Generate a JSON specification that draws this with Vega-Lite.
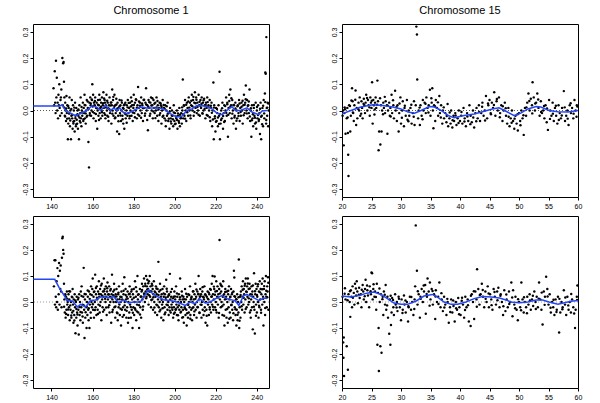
{
"$schema": "https://vega.github.io/schema/vega-lite/v6.json",
"padding": {"left": 20, "top": 4, "right": 5, "bottom": 5},
"background": "white",
"config": {
  "view": {"stroke": "#000", "strokeWidth": 1},
  "axis": {"domain": false, "grid": false, "ticks": true, "tickColor": "#000", "tickSize": 3, "labelFont": "Liberation Sans", "labelFontSize": 7, "labelColor": "#000", "labelPadding": 2, "labelOverlap": false, "labelFlush": false, "labelBound": false, "title": null},
  "title": {"font": "Liberation Sans", "fontSize": 11, "fontWeight": "normal", "color": "#000", "offset": 8}
},
"columns": 2,
"spacing": {"row": 19, "column": 73},
"bounds": "flush",
"datasets": {
"tl": [
{"x":141.0,"y":0.085},{"x":141.3,"y":0.02},{"x":141.6,"y":0.15},{"x":141.8,"y":0.03},{"x":142.0,"y":-0.01},{"x":142.2,"y":0.19},{"x":142.4,"y":0.05},{"x":142.6,"y":0.125},{"x":142.8,"y":0.0},{"x":143.0,"y":0.03},{"x":143.2,"y":-0.03},{"x":143.4,"y":0.06},{"x":143.6,"y":0.02},{"x":143.8,"y":0.1},{"x":144.0,"y":0.01},{"x":144.2,"y":-0.02},{"x":144.4,"y":0.04},{"x":144.6,"y":0.05},{"x":144.8,"y":0.08},{"x":145.0,"y":-0.01},{"x":145.3,"y":0.2},{"x":145.5,"y":0.02},{"x":145.7,"y":0.18},{"x":145.9,"y":0.185},{"x":146.1,"y":0.11},{"x":146.3,"y":0.05},{"x":146.5,"y":-0.02},{"x":146.7,"y":0.03},{"x":146.9,"y":0.0},{"x":147.1,"y":-0.04},{"x":147.3,"y":0.055},{"x":147.5,"y":-0.01},{"x":147.7,"y":0.02},{"x":148.0,"y":-0.11},{"x":148.2,"y":-0.05},{"x":148.4,"y":0.01},{"x":148.6,"y":-0.03},{"x":148.8,"y":0.05},{"x":149.0,"y":-0.06},{"x":149.2,"y":0.0},{"x":149.5,"y":-0.11},{"x":149.7,"y":-0.02},{"x":149.9,"y":0.04},{"x":150.1,"y":-0.03},{"x":150.3,"y":-0.07},{"x":150.5,"y":0.02},{"x":150.7,"y":-0.05},{"x":150.9,"y":0.0},{"x":151.1,"y":-0.04},{"x":151.3,"y":-0.08},{"x":151.5,"y":0.03},{"x":151.7,"y":-0.02},{"x":151.9,"y":-0.06},{"x":152.1,"y":0.01},{"x":152.3,"y":-0.035},{"x":152.5,"y":-0.05},{"x":152.7,"y":0.0},{"x":152.9,"y":-0.07},{"x":153.1,"y":-0.02},{"x":153.4,"y":-0.11},{"x":153.6,"y":0.02},{"x":153.8,"y":-0.04},{"x":154.0,"y":-0.01},{"x":154.2,"y":0.05},{"x":154.4,"y":-0.03},{"x":154.6,"y":-0.06},{"x":154.8,"y":0.0},{"x":155.0,"y":-0.02},{"x":155.3,"y":0.03},{"x":155.5,"y":-0.04},{"x":155.7,"y":0.01},{"x":155.9,"y":-0.01},{"x":156.1,"y":0.06},{"x":156.3,"y":-0.03},{"x":156.5,"y":0.02},{"x":156.7,"y":-0.05},{"x":156.9,"y":0.0},{"x":157.2,"y":0.04},{"x":157.4,"y":-0.02},{"x":157.7,"y":0.01},{"x":158.0,"y":-0.12},{"x":158.3,"y":-0.217},{"x":158.5,"y":0.03},{"x":158.7,"y":-0.01},{"x":158.9,"y":0.05},{"x":159.1,"y":0.02},{"x":159.3,"y":-0.02},{"x":159.5,"y":0.0},{"x":159.7,"y":0.04},{"x":159.9,"y":0.1},{"x":160.1,"y":0.015},{"x":160.3,"y":0.06},{"x":160.5,"y":-0.03},{"x":160.7,"y":0.03},{"x":160.9,"y":-0.01},{"x":161.1,"y":0.02},{"x":161.3,"y":0.05},{"x":161.6,"y":-0.04},{"x":161.8,"y":0.01},{"x":162.0,"y":0.03},{"x":162.3,"y":-0.07},{"x":162.5,"y":0.0},{"x":162.7,"y":0.04},{"x":162.9,"y":-0.02},{"x":163.1,"y":0.02},{"x":163.3,"y":0.06},{"x":163.5,"y":-0.01},{"x":163.8,"y":0.01},{"x":164.0,"y":-0.03},{"x":164.2,"y":0.03},{"x":164.4,"y":0.0},{"x":164.6,"y":0.05},{"x":164.8,"y":-0.02},{"x":165.0,"y":0.02},{"x":165.3,"y":0.07},{"x":165.5,"y":0.01},{"x":165.7,"y":-0.01},{"x":165.9,"y":0.04},{"x":166.1,"y":0.03},{"x":166.3,"y":-0.03},{"x":166.5,"y":0.02},{"x":166.8,"y":0.06},{"x":167.0,"y":0.0},{"x":167.2,"y":-0.02},{"x":167.4,"y":0.03},{"x":167.6,"y":0.01},{"x":167.8,"y":-0.04},{"x":168.0,"y":0.02},{"x":168.3,"y":0.05},{"x":168.5,"y":-0.01},{"x":168.7,"y":0.0},{"x":168.9,"y":0.03},{"x":169.2,"y":-0.05},{"x":169.4,"y":0.02},{"x":169.6,"y":0.08},{"x":169.8,"y":0.0},{"x":170.0,"y":0.04},{"x":170.2,"y":-0.02},{"x":170.5,"y":0.01},{"x":170.7,"y":0.06},{"x":170.9,"y":-0.03},{"x":171.1,"y":0.02},{"x":171.3,"y":-0.01},{"x":171.6,"y":0.045},{"x":171.8,"y":0.0},{"x":172.0,"y":-0.08},{"x":172.2,"y":0.03},{"x":172.5,"y":-0.02},{"x":172.7,"y":0.01},{"x":173.0,"y":-0.09},{"x":173.2,"y":0.04},{"x":173.4,"y":-0.01},{"x":173.6,"y":0.02},{"x":173.9,"y":-0.04},{"x":174.1,"y":0.0},{"x":174.3,"y":0.03},{"x":174.6,"y":-0.02},{"x":174.8,"y":0.01},{"x":175.0,"y":-0.05},{"x":175.3,"y":0.02},{"x":175.5,"y":-0.07},{"x":175.7,"y":-0.01},{"x":176.0,"y":0.03},{"x":176.2,"y":-0.03},{"x":176.5,"y":0.0},{"x":176.7,"y":0.02},{"x":177.0,"y":-0.02},{"x":177.2,"y":0.04},{"x":177.5,"y":-0.01},{"x":177.8,"y":0.01},{"x":178.0,"y":-0.03},{"x":178.3,"y":0.03},{"x":178.5,"y":0.0},{"x":178.8,"y":0.05},{"x":179.0,"y":-0.02},{"x":179.3,"y":0.02},{"x":179.6,"y":-0.04},{"x":179.9,"y":0.01},{"x":180.1,"y":0.06},{"x":180.4,"y":-0.01},{"x":180.7,"y":0.03},{"x":181.0,"y":0.0},{"x":181.3,"y":0.04},{"x":181.6,"y":-0.03},{"x":181.9,"y":0.02},{"x":182.2,"y":0.09},{"x":182.5,"y":0.01},{"x":182.8,"y":-0.02},{"x":183.1,"y":0.03},{"x":183.4,"y":0.0},{"x":183.7,"y":0.05},{"x":184.0,"y":-0.01},{"x":184.3,"y":0.02},{"x":184.6,"y":-0.04},{"x":184.9,"y":0.04},{"x":185.2,"y":0.01},{"x":185.5,"y":-0.02},{"x":185.8,"y":0.03},{"x":186.1,"y":0.085},{"x":186.4,"y":0.0},{"x":186.7,"y":0.02},{"x":187.0,"y":-0.075},{"x":187.3,"y":0.04},{"x":187.6,"y":0.01},{"x":187.9,"y":-0.02},{"x":188.2,"y":0.03},{"x":188.5,"y":0.05},{"x":188.8,"y":0.0},{"x":189.1,"y":0.02},{"x":189.4,"y":-0.03},{"x":189.7,"y":0.04},{"x":190.0,"y":0.01},{"x":190.3,"y":-0.01},{"x":190.6,"y":0.03},{"x":190.9,"y":0.0},{"x":191.2,"y":0.05},{"x":191.5,"y":-0.02},{"x":191.8,"y":0.02},{"x":192.1,"y":-0.04},{"x":192.4,"y":0.01},{"x":192.7,"y":0.03},{"x":193.0,"y":-0.01},{"x":193.3,"y":0.02},{"x":193.6,"y":-0.05},{"x":193.9,"y":0.0},{"x":194.2,"y":0.04},{"x":194.5,"y":-0.02},{"x":194.8,"y":0.01},{"x":195.1,"y":-0.03},{"x":195.4,"y":0.02},{"x":195.7,"y":-0.06},{"x":196.0,"y":0.0},{"x":196.3,"y":-0.02},{"x":196.6,"y":0.03},{"x":196.9,"y":-0.04},{"x":197.2,"y":-0.01},{"x":197.5,"y":-0.07},{"x":197.8,"y":0.01},{"x":198.1,"y":-0.03},{"x":198.4,"y":-0.05},{"x":198.7,"y":0.0},{"x":199.0,"y":-0.02},{"x":199.3,"y":-0.06},{"x":199.6,"y":0.02},{"x":199.9,"y":-0.04},{"x":200.2,"y":-0.01},{"x":200.5,"y":-0.05},{"x":200.8,"y":-0.03},{"x":201.1,"y":0.0},{"x":201.4,"y":-0.07},{"x":201.7,"y":-0.02},{"x":202.0,"y":-0.04},{"x":202.3,"y":0.01},{"x":202.6,"y":-0.06},{"x":202.9,"y":-0.03},{"x":203.2,"y":-0.01},{"x":203.5,"y":-0.05},{"x":203.8,"y":0.0},{"x":204.0,"y":0.118},{"x":204.2,"y":-0.03},{"x":204.5,"y":0.02},{"x":204.8,"y":-0.02},{"x":205.1,"y":0.04},{"x":205.4,"y":0.0},{"x":205.7,"y":-0.04},{"x":206.0,"y":0.03},{"x":206.3,"y":0.01},{"x":206.6,"y":-0.02},{"x":206.9,"y":0.05},{"x":207.2,"y":0.0},{"x":207.5,"y":0.03},{"x":207.8,"y":-0.03},{"x":208.1,"y":0.02},{"x":208.4,"y":0.06},{"x":208.7,"y":0.0},{"x":209.0,"y":0.04},{"x":209.3,"y":-0.02},{"x":209.6,"y":0.03},{"x":209.9,"y":0.07},{"x":210.2,"y":0.01},{"x":210.5,"y":0.05},{"x":210.8,"y":-0.01},{"x":211.1,"y":0.03},{"x":211.4,"y":0.0},{"x":211.7,"y":0.06},{"x":212.0,"y":0.02},{"x":212.3,"y":-0.02},{"x":212.6,"y":0.04},{"x":212.9,"y":0.01},{"x":213.2,"y":0.05},{"x":213.5,"y":-0.01},{"x":213.8,"y":0.03},{"x":214.1,"y":0.0},{"x":214.4,"y":0.045},{"x":214.7,"y":0.02},{"x":215.0,"y":-0.03},{"x":215.3,"y":0.03},{"x":215.6,"y":0.01},{"x":215.9,"y":0.05},{"x":216.2,"y":-0.02},{"x":216.5,"y":0.02},{"x":216.8,"y":0.0},{"x":217.1,"y":0.04},{"x":217.4,"y":-0.04},{"x":217.7,"y":0.01},{"x":218.0,"y":0.03},{"x":218.3,"y":-0.06},{"x":218.6,"y":0.0},{"x":218.9,"y":0.107},{"x":219.1,"y":-0.11},{"x":219.3,"y":0.02},{"x":219.6,"y":-0.03},{"x":219.9,"y":-0.08},{"x":220.2,"y":0.01},{"x":220.5,"y":-0.04},{"x":220.8,"y":-0.01},{"x":221.1,"y":-0.06},{"x":221.4,"y":0.02},{"x":221.7,"y":-0.02},{"x":221.9,"y":0.148},{"x":222.1,"y":-0.11},{"x":222.4,"y":-0.05},{"x":222.7,"y":0.0},{"x":223.0,"y":-0.03},{"x":223.3,"y":0.03},{"x":223.6,"y":-0.07},{"x":223.9,"y":-0.01},{"x":224.2,"y":0.02},{"x":224.5,"y":-0.04},{"x":224.8,"y":0.0},{"x":225.1,"y":0.05},{"x":225.4,"y":-0.02},{"x":225.7,"y":0.03},{"x":226.0,"y":-0.1},{"x":226.3,"y":0.01},{"x":226.6,"y":0.06},{"x":226.9,"y":-0.01},{"x":227.2,"y":0.08},{"x":227.5,"y":0.02},{"x":227.8,"y":-0.03},{"x":228.1,"y":0.04},{"x":228.4,"y":0.0},{"x":228.7,"y":-0.05},{"x":229.0,"y":0.02},{"x":229.3,"y":-0.02},{"x":229.6,"y":0.03},{"x":229.9,"y":-0.07},{"x":230.2,"y":0.0},{"x":230.5,"y":-0.03},{"x":230.8,"y":0.02},{"x":231.1,"y":-0.01},{"x":231.4,"y":0.04},{"x":231.7,"y":-0.04},{"x":232.0,"y":0.01},{"x":232.3,"y":-0.02},{"x":232.6,"y":0.03},{"x":232.9,"y":0.0},{"x":233.2,"y":-0.05},{"x":233.5,"y":0.02},{"x":233.8,"y":0.06},{"x":234.1,"y":-0.01},{"x":234.4,"y":0.03},{"x":234.7,"y":0.095},{"x":235.0,"y":0.0},{"x":235.3,"y":0.04},{"x":235.6,"y":-0.03},{"x":235.9,"y":0.02},{"x":236.2,"y":-0.01},{"x":236.5,"y":0.08},{"x":236.8,"y":-0.04},{"x":237.1,"y":0.0},{"x":237.4,"y":-0.1},{"x":237.7,"y":0.02},{"x":238.0,"y":-0.03},{"x":238.3,"y":-0.06},{"x":238.6,"y":0.01},{"x":238.9,"y":-0.02},{"x":239.2,"y":-0.05},{"x":239.5,"y":0.03},{"x":239.8,"y":-0.07},{"x":240.1,"y":0.0},{"x":240.4,"y":-0.03},{"x":240.7,"y":0.02},{"x":241.0,"y":-0.04},{"x":241.3,"y":-0.01},{"x":241.6,"y":-0.09},{"x":241.9,"y":0.03},{"x":242.2,"y":-0.11},{"x":242.5,"y":-0.02},{"x":242.8,"y":0.01},{"x":243.1,"y":-0.06},{"x":243.4,"y":0.04},{"x":243.7,"y":-0.03},{"x":244.0,"y":0.065},{"x":244.2,"y":0.145},{"x":244.4,"y":0.14},{"x":244.6,"y":-0.05},{"x":244.7,"y":0.28},{"x":244.9,"y":0.01},{"x":245.1,"y":-0.02},{"x":245.3,"y":0.03},{"x":245.6,"y":-0.06},{"x":245.8,"y":0.0},
{"x":146.15,"y":0.012},{"x":146.65,"y":-0.023},{"x":147.15,"y":0.008},{"x":147.65,"y":-0.031},{"x":148.15,"y":0.017},{"x":148.65,"y":-0.012},{"x":149.15,"y":-0.038},{"x":149.65,"y":0.006},{"x":150.15,"y":-0.017},{"x":150.65,"y":-0.043},{"x":151.15,"y":0.011},{"x":151.65,"y":-0.029},{"x":152.15,"y":-0.052},{"x":152.65,"y":-0.014},{"x":153.15,"y":0.004},{"x":153.65,"y":-0.027},{"x":154.15,"y":-0.046},{"x":154.65,"y":0.013},{"x":155.15,"y":-0.008},{"x":155.65,"y":-0.033},{"x":156.15,"y":0.021},{"x":156.65,"y":-0.011},{"x":157.15,"y":-0.024},{"x":157.65,"y":0.034},{"x":158.15,"y":0.007},{"x":158.65,"y":-0.018},{"x":159.15,"y":0.027},{"x":159.65,"y":0.042},{"x":160.15,"y":-0.006},{"x":160.65,"y":0.018},{"x":161.15,"y":0.036},{"x":161.65,"y":-0.013},{"x":162.15,"y":0.009},{"x":162.65,"y":0.022},{"x":163.15,"y":-0.036},{"x":163.65,"y":0.041},{"x":164.15,"y":0.014},{"x":164.65,"y":-0.007},{"x":165.15,"y":0.028},{"x":165.65,"y":0.046},{"x":166.15,"y":-0.016},{"x":166.65,"y":0.011},{"x":167.15,"y":0.037},{"x":167.65,"y":-0.024},{"x":168.15,"y":0.006},{"x":168.65,"y":0.019},{"x":169.15,"y":0.031},{"x":169.65,"y":-0.012},{"x":170.15,"y":0.052},{"x":170.65,"y":0.017},{"x":171.15,"y":-0.027},{"x":171.65,"y":0.023},{"x":172.15,"y":0.008},{"x":172.65,"y":-0.041},{"x":173.15,"y":0.016},{"x":173.65,"y":-0.019},{"x":174.15,"y":0.038},{"x":174.65,"y":-0.033},{"x":175.15,"y":0.007},{"x":175.65,"y":0.024},{"x":176.15,"y":-0.014},{"x":176.65,"y":-0.047},{"x":177.15,"y":0.012},{"x":177.65,"y":0.029},{"x":178.15,"y":-0.021},{"x":178.65,"y":0.015},{"x":179.15,"y":0.035},{"x":179.65,"y":-0.008},{"x":180.15,"y":0.021},{"x":180.65,"y":-0.026},{"x":181.15,"y":0.043},{"x":181.65,"y":0.011},{"x":182.15,"y":-0.015},{"x":182.65,"y":0.034},{"x":183.15,"y":0.018},{"x":183.65,"y":-0.028},{"x":184.15,"y":0.027},{"x":184.65,"y":0.009},{"x":185.15,"y":0.041},{"x":185.65,"y":-0.011},{"x":186.15,"y":0.023},{"x":186.65,"y":-0.036},{"x":187.15,"y":0.014},{"x":187.65,"y":0.032},{"x":188.15,"y":-0.012},{"x":188.65,"y":0.019},{"x":189.15,"y":0.047},{"x":189.65,"y":-0.004},{"x":190.15,"y":0.026},{"x":190.65,"y":-0.029},{"x":191.15,"y":0.012},{"x":191.65,"y":0.036},{"x":192.15,"y":0.004},{"x":192.65,"y":-0.017},{"x":193.15,"y":0.028},{"x":193.65,"y":0.013},{"x":194.15,"y":-0.024},{"x":194.65,"y":0.021},{"x":195.15,"y":0.007},{"x":195.65,"y":-0.038},{"x":196.15,"y":0.016},{"x":196.65,"y":-0.012},{"x":197.15,"y":-0.031},{"x":197.65,"y":-0.004},{"x":198.15,"y":-0.042},{"x":198.65,"y":-0.019},{"x":199.15,"y":-0.033},{"x":199.65,"y":-0.008},{"x":200.15,"y":-0.052},{"x":200.65,"y":-0.023},{"x":201.15,"y":-0.036},{"x":201.65,"y":-0.011},{"x":202.15,"y":-0.047},{"x":202.65,"y":-0.016},{"x":203.15,"y":-0.029},{"x":203.65,"y":0.012},{"x":204.15,"y":-0.014},{"x":204.65,"y":0.018},{"x":205.15,"y":-0.031},{"x":205.65,"y":0.022},{"x":206.15,"y":-0.007},{"x":206.65,"y":0.034},{"x":207.15,"y":0.011},{"x":207.65,"y":-0.019},{"x":208.15,"y":0.037},{"x":208.65,"y":0.016},{"x":209.15,"y":0.052},{"x":209.65,"y":-0.006},{"x":210.15,"y":0.028},{"x":210.65,"y":0.041},{"x":211.15,"y":0.013},{"x":211.65,"y":-0.016},{"x":212.15,"y":0.033},{"x":212.65,"y":0.018},{"x":213.15,"y":0.026},{"x":213.65,"y":-0.012},{"x":214.15,"y":0.039},{"x":214.65,"y":0.007},{"x":215.15,"y":0.021},{"x":215.65,"y":-0.017},{"x":216.15,"y":0.032},{"x":216.65,"y":0.012},{"x":217.15,"y":-0.026},{"x":217.65,"y":0.018},{"x":218.15,"y":-0.009},{"x":218.65,"y":-0.034},{"x":219.15,"y":0.011},{"x":219.65,"y":-0.022},{"x":220.15,"y":-0.043},{"x":220.65,"y":0.006},{"x":221.15,"y":-0.027},{"x":221.65,"y":-0.051},{"x":222.15,"y":-0.013},{"x":222.65,"y":-0.036},{"x":223.15,"y":0.009},{"x":223.65,"y":-0.021},{"x":224.15,"y":-0.044},{"x":224.65,"y":0.017},{"x":225.15,"y":-0.009},{"x":225.65,"y":0.024},{"x":226.15,"y":-0.016},{"x":226.65,"y":0.036},{"x":227.15,"y":0.013},{"x":227.65,"y":0.047},{"x":228.15,"y":-0.012},{"x":228.65,"y":0.021},{"x":229.15,"y":-0.027},{"x":229.65,"y":0.008},{"x":230.15,"y":-0.039},{"x":230.65,"y":0.016},{"x":231.15,"y":-0.021},{"x":231.65,"y":0.027},{"x":232.15,"y":-0.006},{"x":232.65,"y":0.014},{"x":233.15,"y":0.037},{"x":233.65,"y":-0.018},{"x":234.15,"y":0.022},{"x":234.65,"y":0.043},{"x":235.15,"y":-0.011},{"x":235.65,"y":0.018},{"x":236.15,"y":0.034},{"x":236.65,"y":-0.023},{"x":237.15,"y":0.009},{"x":237.65,"y":-0.037},{"x":238.15,"y":-0.014},{"x":238.65,"y":0.021},{"x":239.15,"y":-0.028},{"x":239.65,"y":-0.046},{"x":240.15,"y":0.013},{"x":240.65,"y":-0.017},{"x":241.15,"y":-0.034},{"x":241.65,"y":0.007},{"x":242.15,"y":-0.024},{"x":242.65,"y":-0.052},{"x":243.15,"y":0.018},{"x":243.65,"y":-0.011},{"x":244.15,"y":0.032},{"x":244.65,"y":-0.036},{"x":245.15,"y":0.011},{"x":245.65,"y":0.027}
],
"tll": [
{"x":131.2,"y":0.0175},{"x":144.1,"y":0.0175},{"x":145.2,"y":0.022},{"x":146.8,"y":0.0},{"x":149.3,"y":-0.01},{"x":151.7,"y":-0.02},{"x":154.1,"y":-0.012},{"x":157.1,"y":0.0},{"x":159.8,"y":0.018},{"x":162.3,"y":0.012},{"x":163.9,"y":0.0},{"x":166.3,"y":0.02},{"x":168.7,"y":0.0},{"x":170.3,"y":0.01},{"x":171.9,"y":0.0},{"x":173.2,"y":0.01},{"x":174.8,"y":-0.006},{"x":176.8,"y":-0.012},{"x":180.0,"y":0.0},{"x":183.3,"y":0.013},{"x":186.5,"y":0.01},{"x":191.4,"y":0.01},{"x":194.6,"y":0.006},{"x":197.9,"y":-0.012},{"x":201.1,"y":-0.025},{"x":203.5,"y":-0.022},{"x":206.0,"y":0.0},{"x":208.4,"y":0.006},{"x":210.9,"y":0.019},{"x":213.3,"y":0.018},{"x":215.7,"y":0.015},{"x":218.2,"y":0.006},{"x":220.6,"y":-0.01},{"x":223.1,"y":-0.016},{"x":225.5,"y":0.0},{"x":227.9,"y":0.015},{"x":229.6,"y":0.0},{"x":232.0,"y":0.0},{"x":235.3,"y":0.01},{"x":237.7,"y":-0.006},{"x":241.0,"y":-0.016},{"x":242.6,"y":-0.002},{"x":245.0,"y":0.0}
],
"bl": [
{"x":141.2,"y":0.06},{"x":141.5,"y":0.16},{"x":141.7,"y":-0.01},{"x":141.9,"y":0.16},{"x":142.1,"y":0.02},{"x":142.3,"y":-0.02},{"x":142.5,"y":0.08},{"x":142.7,"y":0.0},{"x":142.9,"y":0.13},{"x":143.1,"y":-0.03},{"x":143.3,"y":0.1},{"x":143.5,"y":0.03},{"x":143.7,"y":0.15},{"x":143.9,"y":-0.01},{"x":144.1,"y":0.12},{"x":144.3,"y":0.05},{"x":144.5,"y":0.14},{"x":144.7,"y":0.04},{"x":144.9,"y":-0.02},{"x":145.1,"y":0.17},{"x":145.3,"y":0.245},{"x":145.5,"y":0.25},{"x":145.7,"y":0.2},{"x":145.9,"y":0.185},{"x":146.1,"y":0.07},{"x":146.3,"y":0.01},{"x":146.5,"y":-0.04},{"x":146.7,"y":0.03},{"x":146.9,"y":-0.06},{"x":147.1,"y":0.02},{"x":147.3,"y":-0.03},{"x":147.5,"y":0.04},{"x":147.7,"y":-0.01},{"x":147.9,"y":0.0},{"x":148.1,"y":-0.05},{"x":148.3,"y":0.03},{"x":148.5,"y":-0.02},{"x":148.7,"y":0.01},{"x":148.9,"y":-0.07},{"x":149.1,"y":0.04},{"x":149.3,"y":-0.03},{"x":149.5,"y":0.0},{"x":149.7,"y":-0.06},{"x":149.9,"y":0.02},{"x":150.1,"y":-0.04},{"x":150.3,"y":0.05},{"x":150.5,"y":-0.01},{"x":150.7,"y":-0.08},{"x":150.9,"y":0.01},{"x":151.1,"y":-0.05},{"x":151.3,"y":0.03},{"x":151.5,"y":-0.02},{"x":151.7,"y":-0.12},{"x":151.9,"y":0.0},{"x":152.1,"y":-0.06},{"x":152.3,"y":0.02},{"x":152.5,"y":-0.04},{"x":152.7,"y":-0.09},{"x":152.9,"y":0.01},{"x":153.1,"y":-0.03},{"x":153.3,"y":-0.125},{"x":153.5,"y":0.03},{"x":153.7,"y":-0.05},{"x":153.9,"y":0.0},{"x":154.1,"y":-0.07},{"x":154.3,"y":0.04},{"x":154.5,"y":-0.02},{"x":154.7,"y":0.06},{"x":154.9,"y":-0.04},{"x":155.1,"y":-0.01},{"x":155.3,"y":-0.08},{"x":155.5,"y":0.02},{"x":155.7,"y":0.131},{"x":155.9,"y":-0.03},{"x":156.1,"y":-0.138},{"x":156.3,"y":0.01},{"x":156.5,"y":-0.06},{"x":156.7,"y":0.03},{"x":156.9,"y":-0.02},{"x":157.1,"y":-0.1},{"x":157.3,"y":0.0},{"x":157.5,"y":-0.05},{"x":157.7,"y":0.02},{"x":157.9,"y":-0.03},{"x":158.1,"y":-0.07},{"x":158.3,"y":0.04},{"x":158.5,"y":-0.1},{"x":158.7,"y":-0.01},{"x":158.9,"y":0.03},{"x":159.1,"y":-0.04},{"x":159.3,"y":0.06},{"x":159.5,"y":0.0},{"x":159.7,"y":-0.02},{"x":159.9,"y":0.05},{"x":160.1,"y":0.09},{"x":160.3,"y":-0.03},{"x":160.5,"y":0.02},{"x":160.7,"y":-0.06},{"x":160.9,"y":0.04},{"x":161.1,"y":0.0},{"x":161.3,"y":0.105},{"x":161.5,"y":-0.02},{"x":161.7,"y":0.03},{"x":161.9,"y":-0.05},{"x":162.1,"y":0.06},{"x":162.3,"y":0.01},{"x":162.5,"y":-0.03},{"x":162.7,"y":0.04},{"x":162.9,"y":-0.01},{"x":163.1,"y":0.08},{"x":163.3,"y":0.02},{"x":163.5,"y":-0.04},{"x":163.7,"y":0.05},{"x":163.9,"y":0.0},{"x":164.1,"y":0.03},{"x":164.3,"y":-0.07},{"x":164.5,"y":0.07},{"x":164.7,"y":0.01},{"x":164.9,"y":-0.02},{"x":165.1,"y":0.04},{"x":165.3,"y":0.02},{"x":165.5,"y":0.09},{"x":165.7,"y":-0.03},{"x":165.9,"y":0.05},{"x":166.1,"y":0.03},{"x":166.3,"y":0.0},{"x":166.5,"y":0.06},{"x":166.7,"y":0.02},{"x":166.9,"y":-0.05},{"x":167.1,"y":0.04},{"x":167.3,"y":0.075},{"x":167.5,"y":0.01},{"x":167.7,"y":-0.02},{"x":167.9,"y":0.03},{"x":168.1,"y":0.06},{"x":168.3,"y":-0.04},{"x":168.5,"y":0.02},{"x":168.7,"y":0.0},{"x":168.9,"y":0.05},{"x":169.1,"y":-0.08},{"x":169.3,"y":0.03},{"x":169.5,"y":0.105},{"x":169.7,"y":0.01},{"x":169.9,"y":-0.03},{"x":170.1,"y":0.04},{"x":170.3,"y":0.0},{"x":170.5,"y":0.07},{"x":170.7,"y":-0.02},{"x":170.9,"y":0.02},{"x":171.1,"y":-0.06},{"x":171.3,"y":0.03},{"x":171.5,"y":0.0},{"x":171.7,"y":0.05},{"x":171.9,"y":-0.04},{"x":172.1,"y":0.01},{"x":172.3,"y":-0.07},{"x":172.5,"y":0.03},{"x":172.7,"y":-0.02},{"x":172.9,"y":0.06},{"x":173.1,"y":-0.01},{"x":173.3,"y":-0.05},{"x":173.5,"y":0.02},{"x":173.7,"y":0.0},{"x":173.9,"y":-0.09},{"x":174.1,"y":0.04},{"x":174.3,"y":-0.03},{"x":174.5,"y":0.01},{"x":174.7,"y":0.07},{"x":174.9,"y":-0.02},{"x":175.1,"y":0.03},{"x":175.3,"y":-0.05},{"x":175.5,"y":0.095},{"x":175.7,"y":0.0},{"x":175.9,"y":-0.03},{"x":176.1,"y":0.05},{"x":176.3,"y":0.01},{"x":176.5,"y":-0.06},{"x":176.7,"y":0.02},{"x":176.9,"y":-0.02},{"x":177.1,"y":0.04},{"x":177.3,"y":-0.08},{"x":177.5,"y":0.0},{"x":177.7,"y":0.03},{"x":177.9,"y":-0.04},{"x":178.1,"y":0.06},{"x":178.3,"y":-0.01},{"x":178.5,"y":0.02},{"x":178.7,"y":-0.06},{"x":178.9,"y":0.04},{"x":179.1,"y":-0.03},{"x":179.3,"y":0.01},{"x":179.5,"y":-0.1},{"x":179.7,"y":0.03},{"x":179.9,"y":-0.02},{"x":180.1,"y":0.05},{"x":180.3,"y":-0.05},{"x":180.5,"y":0.0},{"x":180.7,"y":0.08},{"x":180.9,"y":-0.03},{"x":181.1,"y":0.02},{"x":181.3,"y":-0.07},{"x":181.5,"y":0.04},{"x":181.7,"y":-0.01},{"x":181.9,"y":0.1},{"x":182.1,"y":0.01},{"x":182.3,"y":-0.04},{"x":182.5,"y":0.03},{"x":182.7,"y":-0.1},{"x":182.9,"y":0.0},{"x":183.1,"y":0.05},{"x":183.3,"y":-0.02},{"x":183.5,"y":0.02},{"x":183.7,"y":-0.06},{"x":183.9,"y":0.04},{"x":184.1,"y":0.07},{"x":184.3,"y":0.01},{"x":184.5,"y":-0.03},{"x":184.7,"y":0.06},{"x":184.9,"y":0.02},{"x":185.1,"y":0.09},{"x":185.3,"y":0.03},{"x":185.5,"y":0.0},{"x":185.7,"y":0.07},{"x":185.9,"y":0.04},{"x":186.1,"y":0.1},{"x":186.3,"y":0.02},{"x":186.5,"y":0.06},{"x":186.7,"y":0.085},{"x":186.9,"y":0.03},{"x":187.1,"y":0.05},{"x":187.3,"y":-0.01},{"x":187.5,"y":0.08},{"x":187.7,"y":0.04},{"x":187.9,"y":0.1},{"x":188.1,"y":0.02},{"x":188.3,"y":0.06},{"x":188.5,"y":-0.02},{"x":188.7,"y":0.04},{"x":188.9,"y":0.07},{"x":189.1,"y":0.01},{"x":189.3,"y":0.05},{"x":189.5,"y":-0.03},{"x":189.7,"y":0.03},{"x":189.9,"y":0.08},{"x":190.1,"y":0.0},{"x":190.3,"y":0.04},{"x":190.5,"y":-0.04},{"x":190.7,"y":0.02},{"x":190.9,"y":0.06},{"x":191.1,"y":-0.01},{"x":191.3,"y":0.03},{"x":191.5,"y":-0.05},{"x":191.7,"y":0.05},{"x":191.9,"y":0.01},{"x":192.1,"y":0.154},{"x":192.3,"y":-0.02},{"x":192.5,"y":0.04},{"x":192.7,"y":0.0},{"x":192.9,"y":0.07},{"x":193.1,"y":-0.03},{"x":193.3,"y":0.02},{"x":193.5,"y":-0.06},{"x":193.7,"y":0.03},{"x":193.9,"y":-0.01},{"x":194.1,"y":0.05},{"x":194.3,"y":0.0},{"x":194.5,"y":-0.07},{"x":194.7,"y":0.02},{"x":194.9,"y":0.06},{"x":195.1,"y":-0.02},{"x":195.3,"y":0.03},{"x":195.5,"y":-0.04},{"x":195.7,"y":0.01},{"x":195.9,"y":0.085},{"x":196.1,"y":-0.01},{"x":196.3,"y":0.04},{"x":196.5,"y":-0.03},{"x":196.7,"y":0.02},{"x":196.9,"y":0.0},{"x":197.1,"y":-0.05},{"x":197.3,"y":0.03},{"x":197.5,"y":-0.02},{"x":197.7,"y":0.108},{"x":197.9,"y":0.01},{"x":198.1,"y":-0.04},{"x":198.3,"y":0.02},{"x":198.5,"y":-0.01},{"x":198.7,"y":0.05},{"x":198.9,"y":-0.03},{"x":199.1,"y":0.0},{"x":199.3,"y":-0.06},{"x":199.5,"y":0.02},{"x":199.7,"y":-0.02},{"x":199.9,"y":0.04},{"x":200.1,"y":-0.04},{"x":200.3,"y":0.01},{"x":200.5,"y":-0.03},{"x":200.7,"y":0.06},{"x":200.9,"y":-0.01},{"x":201.1,"y":-0.05},{"x":201.3,"y":0.02},{"x":201.5,"y":-0.02},{"x":201.7,"y":0.0},{"x":201.9,"y":-0.07},{"x":202.1,"y":0.03},{"x":202.3,"y":-0.03},{"x":202.5,"y":0.01},{"x":202.7,"y":0.09},{"x":202.9,"y":-0.04},{"x":203.1,"y":0.0},{"x":203.3,"y":-0.02},{"x":203.5,"y":0.04},{"x":203.7,"y":-0.06},{"x":203.9,"y":0.01},{"x":204.1,"y":-0.03},{"x":204.3,"y":0.02},{"x":204.5,"y":-0.08},{"x":204.7,"y":0.0},{"x":204.9,"y":-0.02},{"x":205.1,"y":0.05},{"x":205.3,"y":-0.05},{"x":205.5,"y":0.01},{"x":205.7,"y":-0.03},{"x":205.9,"y":-0.09},{"x":206.1,"y":0.02},{"x":206.3,"y":-0.01},{"x":206.5,"y":-0.06},{"x":206.7,"y":0.03},{"x":206.9,"y":-0.04},{"x":207.1,"y":0.0},{"x":207.3,"y":-0.02},{"x":207.5,"y":0.06},{"x":207.7,"y":-0.05},{"x":207.9,"y":0.01},{"x":208.1,"y":-0.03},{"x":208.3,"y":0.02},{"x":208.5,"y":-0.07},{"x":208.7,"y":0.0},{"x":208.9,"y":0.04},{"x":209.1,"y":-0.02},{"x":209.3,"y":0.01},{"x":209.5,"y":-0.05},{"x":209.7,"y":0.03},{"x":209.9,"y":-0.01},{"x":210.1,"y":0.07},{"x":210.3,"y":-0.03},{"x":210.5,"y":0.02},{"x":210.7,"y":-0.06},{"x":210.9,"y":0.0},{"x":211.1,"y":0.04},{"x":211.3,"y":-0.02},{"x":211.5,"y":0.03},{"x":211.7,"y":0.1},{"x":211.9,"y":0.01},{"x":212.1,"y":-0.04},{"x":212.3,"y":0.02},{"x":212.5,"y":0.05},{"x":212.7,"y":-0.01},{"x":212.9,"y":0.03},{"x":213.1,"y":-0.06},{"x":213.3,"y":0.0},{"x":213.5,"y":0.04},{"x":213.7,"y":-0.03},{"x":213.9,"y":0.02},{"x":214.1,"y":-0.05},{"x":214.3,"y":0.01},{"x":214.5,"y":0.06},{"x":214.7,"y":-0.02},{"x":214.9,"y":0.03},{"x":215.1,"y":-0.08},{"x":215.3,"y":0.0},{"x":215.5,"y":-0.03},{"x":215.7,"y":0.02},{"x":215.9,"y":-0.09},{"x":216.1,"y":0.04},{"x":216.3,"y":-0.01},{"x":216.5,"y":0.01},{"x":216.7,"y":-0.05},{"x":216.9,"y":0.03},{"x":217.1,"y":-0.02},{"x":217.3,"y":0.05},{"x":217.5,"y":0.0},{"x":217.7,"y":-0.04},{"x":217.9,"y":0.02},{"x":218.1,"y":0.07},{"x":218.3,"y":-0.01},{"x":218.5,"y":0.1},{"x":218.7,"y":0.03},{"x":218.9,"y":-0.03},{"x":219.1,"y":0.01},{"x":219.3,"y":0.05},{"x":219.5,"y":0.098},{"x":219.7,"y":-0.02},{"x":219.9,"y":0.04},{"x":220.1,"y":0.0},{"x":220.3,"y":0.08},{"x":220.5,"y":-0.04},{"x":220.7,"y":0.02},{"x":220.9,"y":0.06},{"x":221.1,"y":-0.01},{"x":221.3,"y":0.03},{"x":221.5,"y":-0.06},{"x":221.7,"y":0.05},{"x":221.9,"y":0.238},{"x":222.1,"y":0.01},{"x":222.3,"y":0.07},{"x":222.5,"y":-0.02},{"x":222.7,"y":0.04},{"x":222.9,"y":0.0},{"x":223.1,"y":0.06},{"x":223.3,"y":-0.05},{"x":223.5,"y":0.02},{"x":223.7,"y":0.08},{"x":223.9,"y":-0.01},{"x":224.1,"y":0.03},{"x":224.3,"y":-0.09},{"x":224.5,"y":0.01},{"x":224.7,"y":0.05},{"x":224.9,"y":-0.03},{"x":225.1,"y":0.02},{"x":225.3,"y":-0.06},{"x":225.5,"y":0.04},{"x":225.7,"y":0.0},{"x":225.9,"y":-0.08},{"x":226.1,"y":0.03},{"x":226.3,"y":-0.02},{"x":226.5,"y":0.06},{"x":226.7,"y":0.01},{"x":226.9,"y":-0.04},{"x":227.1,"y":0.02},{"x":227.3,"y":-0.06},{"x":227.5,"y":0.05},{"x":227.7,"y":-0.01},{"x":227.9,"y":0.03},{"x":228.1,"y":-0.03},{"x":228.3,"y":0.0},{"x":228.5,"y":-0.07},{"x":228.7,"y":0.04},{"x":228.9,"y":0.12},{"x":229.1,"y":0.094},{"x":229.3,"y":-0.02},{"x":229.5,"y":0.02},{"x":229.7,"y":-0.05},{"x":229.9,"y":0.01},{"x":230.1,"y":-0.09},{"x":230.3,"y":-0.03},{"x":230.5,"y":0.03},{"x":230.7,"y":-0.07},{"x":230.9,"y":0.0},{"x":231.1,"y":-0.04},{"x":231.3,"y":0.163},{"x":231.5,"y":-0.1},{"x":231.7,"y":-0.02},{"x":231.9,"y":0.02},{"x":232.1,"y":-0.06},{"x":232.3,"y":0.04},{"x":232.5,"y":0.0},{"x":232.7,"y":0.06},{"x":232.9,"y":-0.03},{"x":233.1,"y":0.02},{"x":233.3,"y":0.08},{"x":233.5,"y":-0.01},{"x":233.7,"y":0.05},{"x":233.9,"y":0.03},{"x":234.1,"y":-0.04},{"x":234.3,"y":0.07},{"x":234.5,"y":0.01},{"x":234.7,"y":0.09},{"x":234.9,"y":0.04},{"x":235.1,"y":-0.02},{"x":235.3,"y":0.06},{"x":235.5,"y":0.02},{"x":235.7,"y":0.09},{"x":235.9,"y":-0.01},{"x":236.1,"y":0.05},{"x":236.3,"y":0.0},{"x":236.5,"y":0.07},{"x":236.7,"y":-0.04},{"x":236.9,"y":0.03},{"x":237.1,"y":-0.06},{"x":237.3,"y":0.01},{"x":237.5,"y":0.06},{"x":237.7,"y":-0.02},{"x":237.9,"y":0.04},{"x":238.1,"y":-0.105},{"x":238.3,"y":0.02},{"x":238.5,"y":0.0},{"x":238.7,"y":0.11},{"x":238.9,"y":-0.03},{"x":239.1,"y":-0.121},{"x":239.3,"y":0.03},{"x":239.5,"y":0.07},{"x":239.7,"y":-0.01},{"x":239.9,"y":0.05},{"x":240.1,"y":-0.04},{"x":240.3,"y":0.02},{"x":240.5,"y":0.06},{"x":240.7,"y":0.0},{"x":240.9,"y":-0.06},{"x":241.1,"y":0.04},{"x":241.3,"y":-0.02},{"x":241.5,"y":0.08},{"x":241.7,"y":0.01},{"x":241.9,"y":0.05},{"x":242.1,"y":-0.03},{"x":242.3,"y":0.03},{"x":242.5,"y":0.07},{"x":242.7,"y":-0.01},{"x":242.9,"y":0.09},{"x":243.1,"y":0.02},{"x":243.3,"y":-0.09},{"x":243.5,"y":0.05},{"x":243.7,"y":0.0},{"x":243.9,"y":0.08},{"x":244.1,"y":-0.05},{"x":244.3,"y":0.03},{"x":244.5,"y":0.1},{"x":244.7,"y":0.02},{"x":244.9,"y":-0.02},{"x":245.1,"y":0.06},{"x":245.3,"y":0.04},{"x":245.5,"y":0.095},{"x":245.7,"y":-0.03},
{"x":146.15,"y":-0.018},{"x":146.65,"y":0.027},{"x":147.15,"y":-0.046},{"x":147.65,"y":0.013},{"x":148.15,"y":-0.029},{"x":148.65,"y":0.041},{"x":149.15,"y":-0.013},{"x":149.65,"y":-0.052},{"x":150.15,"y":0.018},{"x":150.65,"y":-0.034},{"x":151.15,"y":-0.071},{"x":151.65,"y":0.006},{"x":152.15,"y":-0.027},{"x":152.65,"y":-0.048},{"x":153.15,"y":0.016},{"x":153.65,"y":-0.019},{"x":154.15,"y":-0.038},{"x":154.65,"y":0.023},{"x":155.15,"y":-0.056},{"x":155.65,"y":-0.012},{"x":156.15,"y":0.031},{"x":156.65,"y":-0.039},{"x":157.15,"y":-0.017},{"x":157.65,"y":0.044},{"x":158.15,"y":-0.024},{"x":158.65,"y":0.012},{"x":159.15,"y":-0.061},{"x":159.65,"y":0.027},{"x":160.15,"y":-0.009},{"x":160.65,"y":0.038},{"x":161.15,"y":-0.031},{"x":161.65,"y":0.054},{"x":162.15,"y":0.016},{"x":162.65,"y":-0.046},{"x":163.15,"y":0.031},{"x":163.65,"y":-0.014},{"x":164.15,"y":0.063},{"x":164.65,"y":0.024},{"x":165.15,"y":-0.037},{"x":165.65,"y":0.041},{"x":166.15,"y":0.012},{"x":166.65,"y":-0.021},{"x":167.15,"y":0.053},{"x":167.65,"y":0.029},{"x":168.15,"y":-0.012},{"x":168.65,"y":0.044},{"x":169.15,"y":0.017},{"x":169.65,"y":-0.038},{"x":170.15,"y":0.026},{"x":170.65,"y":0.047},{"x":171.15,"y":-0.017},{"x":171.65,"y":0.021},{"x":172.15,"y":-0.043},{"x":172.65,"y":0.036},{"x":173.15,"y":0.011},{"x":173.65,"y":-0.026},{"x":174.15,"y":0.019},{"x":174.65,"y":-0.057},{"x":175.15,"y":0.043},{"x":175.65,"y":-0.013},{"x":176.15,"y":0.027},{"x":176.65,"y":-0.034},{"x":177.15,"y":0.013},{"x":177.65,"y":-0.061},{"x":178.15,"y":0.032},{"x":178.65,"y":-0.019},{"x":179.15,"y":0.048},{"x":179.65,"y":-0.041},{"x":180.15,"y":0.016},{"x":180.65,"y":-0.024},{"x":181.15,"y":0.057},{"x":181.65,"y":-0.036},{"x":182.15,"y":0.028},{"x":182.65,"y":-0.012},{"x":183.15,"y":-0.048},{"x":183.65,"y":0.021},{"x":184.15,"y":0.046},{"x":184.65,"y":-0.017},{"x":185.15,"y":0.033},{"x":185.65,"y":0.061},{"x":186.15,"y":0.014},{"x":186.65,"y":0.048},{"x":187.15,"y":0.072},{"x":187.65,"y":0.026},{"x":188.15,"y":0.041},{"x":188.65,"y":0.008},{"x":189.15,"y":0.063},{"x":189.65,"y":0.018},{"x":190.15,"y":-0.021},{"x":190.65,"y":0.037},{"x":191.15,"y":0.052},{"x":191.65,"y":-0.013},{"x":192.15,"y":0.027},{"x":192.65,"y":-0.036},{"x":193.15,"y":0.046},{"x":193.65,"y":0.009},{"x":194.15,"y":-0.024},{"x":194.65,"y":0.033},{"x":195.15,"y":-0.047},{"x":195.65,"y":0.017},{"x":196.15,"y":0.051},{"x":196.65,"y":-0.012},{"x":197.15,"y":0.026},{"x":197.65,"y":-0.033},{"x":198.15,"y":0.038},{"x":198.65,"y":-0.021},{"x":199.15,"y":0.014},{"x":199.65,"y":-0.045},{"x":200.15,"y":0.021},{"x":200.65,"y":-0.028},{"x":201.15,"y":0.033},{"x":201.65,"y":-0.051},{"x":202.15,"y":-0.013},{"x":202.65,"y":0.018},{"x":203.15,"y":-0.037},{"x":203.65,"y":0.024},{"x":204.15,"y":-0.058},{"x":204.65,"y":0.011},{"x":205.15,"y":-0.026},{"x":205.65,"y":0.032},{"x":206.15,"y":-0.043},{"x":206.65,"y":-0.011},{"x":207.15,"y":0.027},{"x":207.65,"y":-0.064},{"x":208.15,"y":0.016},{"x":208.65,"y":-0.023},{"x":209.15,"y":0.041},{"x":209.65,"y":-0.036},{"x":210.15,"y":0.012},{"x":210.65,"y":0.048},{"x":211.15,"y":-0.019},{"x":211.65,"y":0.031},{"x":212.15,"y":-0.042},{"x":212.65,"y":0.022},{"x":213.15,"y":-0.011},{"x":213.65,"y":0.057},{"x":214.15,"y":0.017},{"x":214.65,"y":-0.035},{"x":215.15,"y":0.026},{"x":215.65,"y":-0.053},{"x":216.15,"y":0.013},{"x":216.65,"y":0.036},{"x":217.15,"y":-0.029},{"x":217.65,"y":0.047},{"x":218.15,"y":0.021},{"x":218.65,"y":-0.018},{"x":219.15,"y":0.059},{"x":219.65,"y":0.028},{"x":220.15,"y":-0.031},{"x":220.65,"y":0.042},{"x":221.15,"y":0.017},{"x":221.65,"y":-0.042},{"x":222.15,"y":0.033},{"x":222.65,"y":0.064},{"x":223.15,"y":-0.016},{"x":223.65,"y":0.024},{"x":224.15,"y":-0.053},{"x":224.65,"y":0.038},{"x":225.15,"y":0.012},{"x":225.65,"y":-0.027},{"x":226.15,"y":0.043},{"x":226.65,"y":-0.064},{"x":227.15,"y":0.019},{"x":227.65,"y":-0.012},{"x":228.15,"y":0.036},{"x":228.65,"y":-0.043},{"x":229.15,"y":0.022},{"x":229.65,"y":-0.028},{"x":230.15,"y":0.011},{"x":230.65,"y":-0.049},{"x":231.15,"y":0.018},{"x":231.65,"y":-0.072},{"x":232.15,"y":0.027},{"x":232.65,"y":-0.016},{"x":233.15,"y":0.047},{"x":233.65,"y":0.016},{"x":234.15,"y":0.062},{"x":234.65,"y":-0.027},{"x":235.15,"y":0.038},{"x":235.65,"y":0.071},{"x":236.15,"y":0.014},{"x":236.65,"y":0.052},{"x":237.15,"y":-0.032},{"x":237.65,"y":0.029},{"x":238.15,"y":0.063},{"x":238.65,"y":-0.018},{"x":239.15,"y":0.041},{"x":239.65,"y":-0.053},{"x":240.15,"y":0.027},{"x":240.65,"y":0.068},{"x":241.15,"y":-0.014},{"x":241.65,"y":0.037},{"x":242.15,"y":-0.041},{"x":242.65,"y":0.049},{"x":243.15,"y":0.012},{"x":243.65,"y":0.061},{"x":244.15,"y":-0.023},{"x":244.65,"y":0.043},{"x":245.15,"y":0.018},{"x":245.65,"y":0.074}
],
"bll": [
{"x":131.2,"y":0.087},{"x":141.6,"y":0.087},{"x":143.8,"y":0.054},{"x":146.2,"y":0.025},{"x":147.5,"y":0.006},{"x":150.2,"y":0.004},{"x":152.6,"y":-0.019},{"x":154.2,"y":-0.009},{"x":156.6,"y":-0.019},{"x":159.0,"y":0.006},{"x":161.5,"y":0.008},{"x":163.9,"y":0.019},{"x":166.3,"y":0.019},{"x":168.7,"y":0.016},{"x":170.3,"y":0.021},{"x":172.7,"y":-0.004},{"x":175.1,"y":0.008},{"x":177.6,"y":-0.004},{"x":180.0,"y":0.0},{"x":183.3,"y":0.0},{"x":184.9,"y":0.019},{"x":187.3,"y":0.047},{"x":189.7,"y":0.029},{"x":192.2,"y":0.019},{"x":194.6,"y":0.009},{"x":197.9,"y":0.006},{"x":201.1,"y":0.0},{"x":205.2,"y":-0.013},{"x":207.6,"y":0.0},{"x":210.0,"y":-0.006},{"x":212.2,"y":0.012},{"x":214.9,"y":-0.004},{"x":217.4,"y":0.0},{"x":220.6,"y":0.016},{"x":223.1,"y":0.025},{"x":225.5,"y":0.013},{"x":227.5,"y":0.009},{"x":229.6,"y":0.004},{"x":231.3,"y":-0.013},{"x":233.7,"y":0.025},{"x":235.3,"y":0.029},{"x":238.6,"y":0.016},{"x":241.0,"y":0.006},{"x":243.5,"y":0.015},{"x":245.1,"y":0.013}
],
"tr": [
{"x":20.1,"y":-0.02},{"x":20.2,"y":0.0},{"x":20.3,"y":-0.133},{"x":20.4,"y":-0.01},{"x":20.5,"y":0.005},{"x":20.6,"y":-0.089},{"x":20.8,"y":-0.03},{"x":20.9,"y":0.01},{"x":21.0,"y":-0.086},{"x":21.05,"y":-0.169},{"x":21.1,"y":-0.25},{"x":21.2,"y":0.02},{"x":21.4,"y":-0.08},{"x":21.5,"y":-0.02},{"x":21.6,"y":0.038},{"x":21.7,"y":0.085},{"x":21.8,"y":0.035},{"x":21.9,"y":-0.01},{"x":22.0,"y":-0.04},{"x":22.1,"y":0.02},{"x":22.3,"y":0.076},{"x":22.4,"y":-0.055},{"x":22.5,"y":0.01},{"x":22.6,"y":-0.03},{"x":22.8,"y":0.03},{"x":22.9,"y":0.0},{"x":23.0,"y":0.05},{"x":23.1,"y":-0.02},{"x":23.3,"y":0.035},{"x":23.4,"y":0.01},{"x":23.5,"y":-0.03},{"x":23.7,"y":0.045},{"x":23.8,"y":0.02},{"x":23.9,"y":-0.01},{"x":24.0,"y":0.03},{"x":24.1,"y":0.06},{"x":24.3,"y":0.0},{"x":24.4,"y":0.04},{"x":24.5,"y":0.02},{"x":24.7,"y":-0.02},{"x":24.8,"y":0.05},{"x":24.9,"y":0.03},{"x":25.0,"y":0.01},{"x":25.1,"y":0.108},{"x":25.2,"y":-0.05},{"x":25.3,"y":0.04},{"x":25.4,"y":0.02},{"x":25.5,"y":-0.015},{"x":25.6,"y":0.03},{"x":25.7,"y":0.05},{"x":25.8,"y":0.01},{"x":26.0,"y":0.114},{"x":26.1,"y":0.035},{"x":26.2,"y":-0.152},{"x":26.3,"y":-0.08},{"x":26.5,"y":-0.13},{"x":26.6,"y":0.02},{"x":26.7,"y":-0.08},{"x":26.8,"y":0.0},{"x":27.0,"y":0.03},{"x":27.1,"y":0.01},{"x":27.3,"y":-0.01},{"x":27.4,"y":0.035},{"x":27.6,"y":0.02},{"x":27.7,"y":-0.089},{"x":27.8,"y":0.0},{"x":28.0,"y":0.03},{"x":28.1,"y":-0.02},{"x":28.2,"y":0.01},{"x":28.4,"y":0.06},{"x":28.5,"y":-0.01},{"x":28.7,"y":0.02},{"x":28.8,"y":-0.03},{"x":29.0,"y":0.075},{"x":29.1,"y":0.0},{"x":29.3,"y":-0.04},{"x":29.4,"y":0.02},{"x":29.6,"y":-0.08},{"x":29.7,"y":-0.01},{"x":29.9,"y":0.05},{"x":30.0,"y":-0.05},{"x":30.2,"y":0.0},{"x":30.3,"y":0.035},{"x":30.5,"y":-0.06},{"x":30.6,"y":0.01},{"x":30.8,"y":-0.02},{"x":31.0,"y":0.04},{"x":31.1,"y":-0.035},{"x":31.3,"y":0.0},{"x":31.4,"y":-0.02},{"x":31.6,"y":0.01},{"x":31.8,"y":-0.05},{"x":32.0,"y":-0.01},{"x":32.2,"y":0.035},{"x":32.3,"y":-0.055},{"x":32.5,"y":0.02},{"x":32.6,"y":0.32},{"x":32.7,"y":0.29},{"x":32.75,"y":0.118},{"x":32.9,"y":-0.03},{"x":33.0,"y":0.0},{"x":33.2,"y":-0.055},{"x":33.3,"y":0.02},{"x":33.5,"y":-0.02},{"x":33.7,"y":0.04},{"x":33.8,"y":0.0},{"x":34.0,"y":0.03},{"x":34.2,"y":-0.01},{"x":34.3,"y":0.05},{"x":34.5,"y":0.01},{"x":34.7,"y":0.02},{"x":34.9,"y":0.079},{"x":35.0,"y":-0.02},{"x":35.2,"y":0.03},{"x":35.3,"y":0.085},{"x":35.4,"y":0.0},{"x":35.5,"y":-0.068},{"x":35.6,"y":0.02},{"x":35.8,"y":-0.04},{"x":35.9,"y":0.04},{"x":36.1,"y":0.01},{"x":36.3,"y":-0.02},{"x":36.5,"y":0.055},{"x":36.6,"y":-0.01},{"x":36.8,"y":0.02},{"x":37.0,"y":-0.05},{"x":37.1,"y":0.0},{"x":37.3,"y":-0.03},{"x":37.5,"y":-0.01},{"x":37.7,"y":-0.045},{"x":37.9,"y":0.025},{"x":38.0,"y":-0.06},{"x":38.2,"y":-0.03},{"x":38.4,"y":-0.05},{"x":38.5,"y":0.0},{"x":38.7,"y":-0.065},{"x":38.9,"y":-0.02},{"x":39.0,"y":-0.04},{"x":39.2,"y":-0.01},{"x":39.4,"y":-0.055},{"x":39.6,"y":-0.03},{"x":39.8,"y":0.0},{"x":40.0,"y":-0.04},{"x":40.2,"y":-0.02},{"x":40.4,"y":-0.05},{"x":40.6,"y":0.01},{"x":40.8,"y":-0.03},{"x":41.0,"y":-0.06},{"x":41.2,"y":-0.01},{"x":41.4,"y":-0.04},{"x":41.6,"y":0.02},{"x":41.8,"y":-0.02},{"x":42.0,"y":-0.045},{"x":42.2,"y":0.0},{"x":42.4,"y":-0.065},{"x":42.6,"y":-0.01},{"x":42.8,"y":0.01},{"x":43.0,"y":-0.03},{"x":43.2,"y":0.02},{"x":43.4,"y":-0.04},{"x":43.6,"y":-0.01},{"x":43.8,"y":0.03},{"x":44.0,"y":-0.02},{"x":44.2,"y":0.0},{"x":44.4,"y":0.055},{"x":44.6,"y":-0.03},{"x":44.8,"y":0.02},{"x":45.0,"y":0.04},{"x":45.2,"y":-0.01},{"x":45.4,"y":0.03},{"x":45.6,"y":0.01},{"x":45.8,"y":0.07},{"x":46.0,"y":-0.02},{"x":46.2,"y":0.035},{"x":46.4,"y":0.0},{"x":46.6,"y":0.05},{"x":46.8,"y":-0.01},{"x":47.0,"y":0.02},{"x":47.2,"y":-0.04},{"x":47.4,"y":0.0},{"x":47.6,"y":0.03},{"x":47.8,"y":-0.02},{"x":48.0,"y":-0.05},{"x":48.2,"y":0.01},{"x":48.4,"y":-0.06},{"x":48.6,"y":-0.03},{"x":48.8,"y":0.0},{"x":49.0,"y":-0.04},{"x":49.2,"y":-0.07},{"x":49.4,"y":-0.02},{"x":49.6,"y":-0.05},{"x":49.8,"y":-0.076},{"x":50.0,"y":-0.01},{"x":50.2,"y":-0.04},{"x":50.4,"y":0.0},{"x":50.6,"y":-0.03},{"x":50.8,"y":-0.093},{"x":51.0,"y":0.01},{"x":51.2,"y":-0.02},{"x":51.4,"y":0.03},{"x":51.6,"y":0.065},{"x":51.8,"y":0.0},{"x":52.0,"y":0.045},{"x":52.2,"y":0.02},{"x":52.3,"y":0.108},{"x":52.5,"y":0.05},{"x":52.7,"y":0.0},{"x":52.9,"y":0.03},{"x":53.1,"y":0.065},{"x":53.3,"y":0.01},{"x":53.5,"y":-0.02},{"x":53.7,"y":0.035},{"x":53.9,"y":-0.01},{"x":54.1,"y":0.0},{"x":54.3,"y":-0.03},{"x":54.5,"y":0.02},{"x":54.7,"y":-0.045},{"x":54.9,"y":-0.074},{"x":55.1,"y":0.04},{"x":55.3,"y":0.0},{"x":55.5,"y":-0.02},{"x":55.7,"y":0.03},{"x":55.9,"y":-0.04},{"x":56.1,"y":0.01},{"x":56.3,"y":-0.02},{"x":56.5,"y":-0.05},{"x":56.7,"y":0.02},{"x":56.9,"y":-0.01},{"x":57.1,"y":-0.03},{"x":57.3,"y":0.01},{"x":57.6,"y":0.074},{"x":57.8,"y":-0.04},{"x":58.0,"y":-0.02},{"x":58.2,"y":0.0},{"x":58.4,"y":-0.055},{"x":58.6,"y":0.02},{"x":58.8,"y":-0.01},{"x":59.0,"y":0.01},{"x":59.2,"y":-0.03},{"x":59.4,"y":0.04},{"x":59.6,"y":0.0},{"x":59.8,"y":0.02},{"x":59.9,"y":0.015},
{"x":20.45,"y":0.012},{"x":20.95,"y":-0.027},{"x":21.35,"y":0.017},{"x":21.85,"y":-0.008},{"x":22.25,"y":0.041},{"x":22.75,"y":0.006},{"x":23.25,"y":-0.012},{"x":23.65,"y":0.026},{"x":24.25,"y":0.048},{"x":24.65,"y":0.012},{"x":25.05,"y":0.037},{"x":25.55,"y":0.004},{"x":25.95,"y":0.022},{"x":26.45,"y":0.047},{"x":26.95,"y":-0.014},{"x":27.25,"y":0.052},{"x":27.75,"y":0.018},{"x":28.25,"y":-0.023},{"x":28.65,"y":0.039},{"x":29.25,"y":0.013},{"x":29.75,"y":0.027},{"x":30.15,"y":-0.028},{"x":30.65,"y":0.018},{"x":31.25,"y":-0.041},{"x":31.75,"y":0.022},{"x":32.15,"y":-0.024},{"x":33.15,"y":0.011},{"x":33.65,"y":-0.033},{"x":34.15,"y":0.026},{"x":34.65,"y":-0.008},{"x":35.15,"y":0.047},{"x":35.75,"y":0.016},{"x":36.25,"y":0.031},{"x":36.75,"y":-0.027},{"x":37.25,"y":0.012},{"x":37.75,"y":-0.021},{"x":38.25,"y":-0.008},{"x":38.75,"y":-0.037},{"x":39.25,"y":-0.019},{"x":39.75,"y":-0.048},{"x":40.25,"y":-0.006},{"x":40.75,"y":-0.042},{"x":41.25,"y":-0.023},{"x":41.75,"y":-0.052},{"x":42.25,"y":-0.027},{"x":42.75,"y":-0.041},{"x":43.25,"y":-0.006},{"x":43.75,"y":0.014},{"x":44.25,"y":-0.038},{"x":44.75,"y":0.027},{"x":45.25,"y":-0.014},{"x":45.75,"y":0.021},{"x":46.25,"y":0.044},{"x":46.75,"y":-0.026},{"x":47.25,"y":0.016},{"x":47.75,"y":0.009},{"x":48.25,"y":-0.024},{"x":48.75,"y":-0.047},{"x":49.25,"y":-0.031},{"x":49.75,"y":-0.014},{"x":50.25,"y":-0.056},{"x":50.75,"y":-0.018},{"x":51.25,"y":0.012},{"x":51.75,"y":0.036},{"x":52.25,"y":-0.011},{"x":52.75,"y":0.027},{"x":53.25,"y":0.042},{"x":53.75,"y":-0.006},{"x":54.25,"y":0.017},{"x":54.75,"y":0.008},{"x":55.25,"y":-0.032},{"x":55.75,"y":-0.012},{"x":56.25,"y":0.018},{"x":56.75,"y":-0.036},{"x":57.25,"y":-0.019},{"x":57.75,"y":0.012},{"x":58.25,"y":-0.031},{"x":58.75,"y":0.028},{"x":59.25,"y":-0.012},{"x":59.75,"y":-0.024}
],
"trl": [
{"x":20.0,"y":-0.013},{"x":21.5,"y":0.0},{"x":23.2,"y":0.013},{"x":25.2,"y":0.022},{"x":26.9,"y":0.019},{"x":28.6,"y":0.013},{"x":30.0,"y":0.006},{"x":31.2,"y":-0.006},{"x":32.3,"y":-0.01},{"x":33.4,"y":0.0},{"x":34.8,"y":0.015},{"x":35.7,"y":0.013},{"x":36.8,"y":0.0},{"x":38.0,"y":-0.019},{"x":39.0,"y":-0.028},{"x":40.7,"y":-0.019},{"x":42.4,"y":-0.013},{"x":44.1,"y":-0.003},{"x":45.5,"y":0.006},{"x":46.6,"y":0.01},{"x":47.8,"y":-0.003},{"x":49.2,"y":-0.02},{"x":50.3,"y":-0.01},{"x":51.5,"y":0.006},{"x":52.9,"y":0.015},{"x":53.7,"y":0.013},{"x":55.1,"y":0.0},{"x":56.6,"y":-0.005},{"x":58.3,"y":-0.006},{"x":60.0,"y":0.0}
],
"br": [
{"x":20.1,"y":0.02},{"x":20.2,"y":-0.155},{"x":20.25,"y":-0.214},{"x":20.3,"y":-0.136},{"x":20.35,"y":-0.284},{"x":20.5,"y":0.053},{"x":20.6,"y":0.01},{"x":20.8,"y":-0.17},{"x":21.0,"y":-0.26},{"x":21.1,"y":0.03},{"x":21.3,"y":0.0},{"x":21.4,"y":-0.057},{"x":21.5,"y":0.045},{"x":21.6,"y":0.02},{"x":21.7,"y":-0.02},{"x":21.8,"y":0.06},{"x":22.0,"y":0.035},{"x":22.1,"y":-0.01},{"x":22.2,"y":0.07},{"x":22.4,"y":0.025},{"x":22.5,"y":0.08},{"x":22.6,"y":0.04},{"x":22.7,"y":-0.005},{"x":22.9,"y":0.055},{"x":23.0,"y":0.015},{"x":23.2,"y":0.03},{"x":23.3,"y":-0.02},{"x":23.5,"y":0.065},{"x":23.6,"y":0.04},{"x":23.7,"y":0.01},{"x":23.9,"y":0.05},{"x":24.0,"y":0.085},{"x":24.1,"y":0.0},{"x":24.3,"y":0.045},{"x":24.4,"y":0.025},{"x":24.6,"y":-0.02},{"x":24.7,"y":0.06},{"x":24.9,"y":0.03},{"x":25.0,"y":0.113},{"x":25.1,"y":0.11},{"x":25.2,"y":0.01},{"x":25.3,"y":0.05},{"x":25.5,"y":0.02},{"x":25.6,"y":0.04},{"x":25.8,"y":-0.03},{"x":25.9,"y":0.07},{"x":26.0,"y":-0.164},{"x":26.1,"y":0.035},{"x":26.2,"y":-0.1},{"x":26.25,"y":-0.265},{"x":26.4,"y":0.0},{"x":26.5,"y":-0.17},{"x":26.6,"y":0.03},{"x":26.7,"y":-0.195},{"x":26.9,"y":0.02},{"x":27.0,"y":-0.05},{"x":27.1,"y":0.04},{"x":27.3,"y":-0.01},{"x":27.4,"y":0.065},{"x":27.5,"y":-0.03},{"x":27.7,"y":0.02},{"x":27.8,"y":-0.06},{"x":28.0,"y":-0.122},{"x":28.1,"y":0.01},{"x":28.2,"y":-0.164},{"x":28.3,"y":-0.088},{"x":28.4,"y":-0.04},{"x":28.5,"y":0.015},{"x":28.7,"y":-0.02},{"x":28.8,"y":-0.05},{"x":29.0,"y":0.03},{"x":29.1,"y":-0.01},{"x":29.3,"y":0.0},{"x":29.4,"y":-0.035},{"x":29.6,"y":0.02},{"x":29.8,"y":-0.02},{"x":30.0,"y":-0.07},{"x":30.1,"y":0.01},{"x":30.3,"y":-0.03},{"x":30.5,"y":0.025},{"x":30.6,"y":-0.01},{"x":30.8,"y":-0.04},{"x":31.0,"y":0.0},{"x":31.2,"y":-0.075},{"x":31.3,"y":-0.02},{"x":31.5,"y":0.02},{"x":31.7,"y":-0.03},{"x":31.9,"y":0.0},{"x":32.1,"y":-0.05},{"x":32.3,"y":0.01},{"x":32.4,"y":0.06},{"x":32.5,"y":0.294},{"x":32.7,"y":0.12},{"x":32.8,"y":-0.01},{"x":33.0,"y":0.03},{"x":33.2,"y":-0.06},{"x":33.3,"y":0.02},{"x":33.5,"y":0.05},{"x":33.7,"y":0.0},{"x":33.9,"y":0.04},{"x":34.1,"y":0.065},{"x":34.2,"y":-0.045},{"x":34.4,"y":0.02},{"x":34.5,"y":0.09},{"x":34.7,"y":0.04},{"x":34.9,"y":0.075},{"x":35.0,"y":0.01},{"x":35.2,"y":0.05},{"x":35.4,"y":-0.01},{"x":35.6,"y":0.03},{"x":35.8,"y":-0.065},{"x":35.9,"y":0.045},{"x":36.1,"y":0.0},{"x":36.3,"y":0.02},{"x":36.5,"y":0.075},{"x":36.7,"y":-0.02},{"x":36.9,"y":0.01},{"x":37.1,"y":-0.035},{"x":37.3,"y":0.02},{"x":37.5,"y":-0.01},{"x":37.7,"y":-0.05},{"x":37.9,"y":0.0},{"x":38.1,"y":-0.08},{"x":38.3,"y":-0.02},{"x":38.5,"y":0.01},{"x":38.7,"y":-0.04},{"x":38.9,"y":-0.015},{"x":39.1,"y":-0.075},{"x":39.3,"y":0.0},{"x":39.5,"y":-0.03},{"x":39.7,"y":0.015},{"x":39.9,"y":-0.02},{"x":40.1,"y":-0.05},{"x":40.3,"y":0.005},{"x":40.5,"y":-0.01},{"x":40.7,"y":-0.06},{"x":40.9,"y":0.02},{"x":41.1,"y":-0.02},{"x":41.3,"y":0.01},{"x":41.5,"y":-0.075},{"x":41.8,"y":-0.092},{"x":42.0,"y":0.03},{"x":42.2,"y":0.0},{"x":42.4,"y":-0.065},{"x":42.6,"y":0.04},{"x":42.8,"y":0.01},{"x":42.9,"y":0.126},{"x":43.1,"y":0.05},{"x":43.3,"y":-0.01},{"x":43.5,"y":0.03},{"x":43.7,"y":0.07},{"x":43.9,"y":0.02},{"x":44.1,"y":-0.02},{"x":44.3,"y":0.04},{"x":44.5,"y":0.0},{"x":44.7,"y":0.06},{"x":44.9,"y":-0.02},{"x":45.1,"y":0.03},{"x":45.3,"y":0.01},{"x":45.5,"y":-0.03},{"x":45.7,"y":0.05},{"x":45.9,"y":0.02},{"x":46.1,"y":-0.01},{"x":46.3,"y":0.04},{"x":46.5,"y":0.055},{"x":46.7,"y":-0.02},{"x":46.9,"y":0.03},{"x":47.1,"y":0.0},{"x":47.3,"y":-0.05},{"x":47.5,"y":0.045},{"x":47.7,"y":-0.035},{"x":47.9,"y":0.01},{"x":48.1,"y":-0.02},{"x":48.3,"y":0.04},{"x":48.5,"y":0.0},{"x":48.7,"y":0.075},{"x":48.9,"y":-0.055},{"x":49.0,"y":0.045},{"x":49.2,"y":-0.01},{"x":49.4,"y":0.02},{"x":49.6,"y":-0.03},{"x":49.8,"y":-0.07},{"x":50.0,"y":0.0},{"x":50.2,"y":-0.02},{"x":50.4,"y":0.075},{"x":50.6,"y":0.01},{"x":50.8,"y":-0.04},{"x":51.0,"y":0.0},{"x":51.2,"y":-0.02},{"x":51.4,"y":0.02},{"x":51.6,"y":-0.01},{"x":51.8,"y":0.03},{"x":52.0,"y":-0.03},{"x":52.2,"y":0.01},{"x":52.4,"y":-0.015},{"x":52.6,"y":0.04},{"x":52.8,"y":0.0},{"x":53.0,"y":0.02},{"x":53.2,"y":-0.02},{"x":53.4,"y":0.075},{"x":53.6,"y":0.01},{"x":53.8,"y":-0.03},{"x":54.0,"y":-0.086},{"x":54.2,"y":0.04},{"x":54.4,"y":0.02},{"x":54.6,"y":0.097},{"x":54.8,"y":0.05},{"x":55.0,"y":-0.01},{"x":55.2,"y":0.03},{"x":55.4,"y":-0.04},{"x":55.6,"y":0.0},{"x":55.8,"y":-0.02},{"x":56.0,"y":-0.05},{"x":56.2,"y":0.01},{"x":56.4,"y":-0.03},{"x":56.6,"y":0.02},{"x":56.8,"y":-0.117},{"x":57.0,"y":-0.04},{"x":57.2,"y":0.0},{"x":57.4,"y":-0.02},{"x":57.6,"y":0.045},{"x":57.8,"y":-0.01},{"x":58.0,"y":-0.05},{"x":58.2,"y":0.02},{"x":58.4,"y":-0.03},{"x":58.6,"y":0.0},{"x":58.8,"y":-0.04},{"x":59.0,"y":0.01},{"x":59.2,"y":-0.02},{"x":59.5,"y":-0.1},{"x":59.6,"y":-0.03},{"x":59.8,"y":0.02},{"x":59.9,"y":0.063},
{"x":20.45,"y":0.032},{"x":20.95,"y":0.007},{"x":21.35,"y":0.041},{"x":21.85,"y":0.016},{"x":22.35,"y":0.052},{"x":22.85,"y":0.028},{"x":23.35,"y":0.047},{"x":23.85,"y":0.022},{"x":24.25,"y":0.063},{"x":24.85,"y":0.041},{"x":25.35,"y":0.068},{"x":25.75,"y":0.019},{"x":26.35,"y":0.052},{"x":26.85,"y":0.011},{"x":27.25,"y":0.028},{"x":27.65,"y":-0.013},{"x":28.25,"y":0.024},{"x":28.65,"y":0.008},{"x":29.25,"y":-0.021},{"x":29.65,"y":0.012},{"x":30.25,"y":-0.042},{"x":30.75,"y":0.006},{"x":31.25,"y":-0.016},{"x":31.75,"y":0.019},{"x":32.25,"y":-0.027},{"x":32.85,"y":0.041},{"x":33.35,"y":0.012},{"x":33.85,"y":0.063},{"x":34.35,"y":0.031},{"x":34.85,"y":-0.014},{"x":35.35,"y":0.042},{"x":35.85,"y":0.021},{"x":36.35,"y":-0.008},{"x":36.85,"y":0.034},{"x":37.35,"y":-0.021},{"x":37.85,"y":0.012},{"x":38.35,"y":-0.038},{"x":38.85,"y":0.006},{"x":39.35,"y":-0.024},{"x":39.85,"y":-0.047},{"x":40.35,"y":0.016},{"x":40.85,"y":-0.031},{"x":41.35,"y":-0.012},{"x":41.85,"y":0.024},{"x":42.35,"y":0.041},{"x":42.85,"y":-0.018},{"x":43.35,"y":0.027},{"x":43.85,"y":0.046},{"x":44.35,"y":0.012},{"x":44.85,"y":0.033},{"x":45.35,"y":-0.012},{"x":45.85,"y":0.038},{"x":46.35,"y":0.007},{"x":46.85,"y":0.024},{"x":47.35,"y":-0.016},{"x":47.85,"y":0.029},{"x":48.35,"y":-0.008},{"x":48.85,"y":0.017},{"x":49.35,"y":-0.024},{"x":49.85,"y":0.011},{"x":50.35,"y":-0.032},{"x":50.85,"y":0.018},{"x":51.35,"y":-0.043},{"x":51.85,"y":0.006},{"x":52.35,"y":0.024},{"x":52.85,"y":-0.027},{"x":53.35,"y":0.013},{"x":53.85,"y":0.036},{"x":54.35,"y":-0.011},{"x":54.85,"y":0.021},{"x":55.35,"y":-0.022},{"x":55.85,"y":0.009},{"x":56.35,"y":-0.038},{"x":56.85,"y":0.012},{"x":57.35,"y":-0.028},{"x":57.85,"y":0.017},{"x":58.35,"y":-0.013},{"x":58.85,"y":0.031},{"x":59.35,"y":-0.044},{"x":59.85,"y":0.008}
],
"brl": [
{"x":20.0,"y":0.023},{"x":21.5,"y":0.019},{"x":22.9,"y":0.025},{"x":24.2,"y":0.034},{"x":25.4,"y":0.038},{"x":26.6,"y":0.029},{"x":27.7,"y":0.013},{"x":28.8,"y":-0.004},{"x":30.0,"y":-0.009},{"x":31.1,"y":-0.009},{"x":32.5,"y":0.003},{"x":33.9,"y":0.023},{"x":35.3,"y":0.029},{"x":36.2,"y":0.019},{"x":37.3,"y":0.0},{"x":38.5,"y":-0.009},{"x":39.6,"y":-0.009},{"x":41.0,"y":0.0},{"x":42.4,"y":0.013},{"x":43.8,"y":0.021},{"x":45.3,"y":0.019},{"x":46.7,"y":0.015},{"x":47.8,"y":0.008},{"x":48.6,"y":0.0},{"x":50.1,"y":-0.003},{"x":51.5,"y":0.0},{"x":52.9,"y":0.008},{"x":54.0,"y":0.008},{"x":55.1,"y":0.0},{"x":56.6,"y":-0.009},{"x":57.7,"y":-0.003},{"x":58.8,"y":0.003},{"x":60.0,"y":0.006}
]
},
"concat": [
{
 "width": 236, "height": 173,
 "title": "Chromosome 1",
 "layer": [
  {"data": {"values": [{}]}, "mark": {"type": "rule", "color": "#555", "strokeDash": [1, 2], "strokeWidth": 1}, "encoding": {"y": {"datum": 0, "type": "quantitative", "scale": {"domain": [-0.33, 0.33], "nice": false}}}},
  {"data": {"name": "tl"}, "mark": {"type": "circle", "size": 6, "color": "#000", "opacity": 1},
   "encoding": {
    "x": {"field": "x", "type": "quantitative", "scale": {"domain": [131, 246], "nice": false, "zero": false}, "axis": {"values": [140, 160, 180, 200, 220, 240], "tickCount": 20, "labelOverlap": false}},
    "y": {"field": "y", "type": "quantitative", "scale": {"domain": [-0.33, 0.33], "nice": false}, "axis": {"values": [-0.3, -0.2, -0.1, 0, 0.1, 0.2, 0.3], "tickCount": 20, "labelOverlap": false, "labelAngle": 270, "labelExpr": "datum.value < 0 ? '-' + format(-datum.value, '.1f') : format(datum.value, '.1f')"}}}},
  {"data": {"name": "tll"}, "mark": {"type": "line", "color": "#2546f5", "strokeWidth": 1.5}, "encoding": {"x": {"field": "x", "type": "quantitative"}, "y": {"field": "y", "type": "quantitative"}}}
 ]
},
{
 "width": 236, "height": 173,
 "title": "Chromosome 15",
 "layer": [
  {"data": {"values": [{}]}, "mark": {"type": "rule", "color": "#555", "strokeDash": [1, 2], "strokeWidth": 1}, "encoding": {"y": {"datum": 0, "type": "quantitative", "scale": {"domain": [-0.33, 0.33], "nice": false}}}},
  {"data": {"name": "tr"}, "mark": {"type": "circle", "size": 6, "color": "#000", "opacity": 1},
   "encoding": {
    "x": {"field": "x", "type": "quantitative", "scale": {"domain": [20, 60], "nice": false, "zero": false}, "axis": {"values": [20, 25, 30, 35, 40, 45, 50, 55, 60], "tickCount": 20, "labelOverlap": false}},
    "y": {"field": "y", "type": "quantitative", "scale": {"domain": [-0.33, 0.33], "nice": false}, "axis": {"values": [-0.3, -0.2, -0.1, 0, 0.1, 0.2, 0.3], "tickCount": 20, "labelOverlap": false, "labelAngle": 270, "labelExpr": "datum.value < 0 ? '-' + format(-datum.value, '.1f') : format(datum.value, '.1f')"}}}},
  {"data": {"name": "trl"}, "mark": {"type": "line", "color": "#2546f5", "strokeWidth": 1.5}, "encoding": {"x": {"field": "x", "type": "quantitative"}, "y": {"field": "y", "type": "quantitative"}}}
 ]
},
{
 "width": 236, "height": 172,
 "layer": [
  {"data": {"values": [{}]}, "mark": {"type": "rule", "color": "#999", "strokeDash": [1, 2], "strokeWidth": 1}, "encoding": {"y": {"datum": 0, "type": "quantitative", "scale": {"domain": [-0.33, 0.33], "nice": false}}}},
  {"data": {"name": "bl"}, "mark": {"type": "circle", "size": 6, "color": "#000", "opacity": 1},
   "encoding": {
    "x": {"field": "x", "type": "quantitative", "scale": {"domain": [131, 246], "nice": false, "zero": false}, "axis": {"values": [140, 160, 180, 200, 220, 240], "tickCount": 20, "labelOverlap": false}},
    "y": {"field": "y", "type": "quantitative", "scale": {"domain": [-0.33, 0.33], "nice": false}, "axis": {"values": [-0.3, -0.2, -0.1, 0, 0.1, 0.2, 0.3], "tickCount": 20, "labelOverlap": false, "labelAngle": 270, "labelExpr": "datum.value < 0 ? '-' + format(-datum.value, '.1f') : format(datum.value, '.1f')"}}}},
  {"data": {"name": "bll"}, "mark": {"type": "line", "color": "#2546f5", "strokeWidth": 1.5}, "encoding": {"x": {"field": "x", "type": "quantitative"}, "y": {"field": "y", "type": "quantitative"}}}
 ]
},
{
 "width": 236, "height": 172,
 "layer": [
  {"data": {"values": [{}]}, "mark": {"type": "rule", "color": "#999", "strokeDash": [1, 2], "strokeWidth": 1}, "encoding": {"y": {"datum": 0, "type": "quantitative", "scale": {"domain": [-0.33, 0.33], "nice": false}}}},
  {"data": {"name": "br"}, "mark": {"type": "circle", "size": 6, "color": "#000", "opacity": 1},
   "encoding": {
    "x": {"field": "x", "type": "quantitative", "scale": {"domain": [20, 60], "nice": false, "zero": false}, "axis": {"values": [20, 25, 30, 35, 40, 45, 50, 55, 60], "tickCount": 20, "labelOverlap": false}},
    "y": {"field": "y", "type": "quantitative", "scale": {"domain": [-0.33, 0.33], "nice": false}, "axis": {"values": [-0.3, -0.2, -0.1, 0, 0.1, 0.2, 0.3], "tickCount": 20, "labelOverlap": false, "labelAngle": 270, "labelExpr": "datum.value < 0 ? '-' + format(-datum.value, '.1f') : format(datum.value, '.1f')"}}}},
  {"data": {"name": "brl"}, "mark": {"type": "line", "color": "#2546f5", "strokeWidth": 1.5}, "encoding": {"x": {"field": "x", "type": "quantitative"}, "y": {"field": "y", "type": "quantitative"}}}
 ]
}
]
}
